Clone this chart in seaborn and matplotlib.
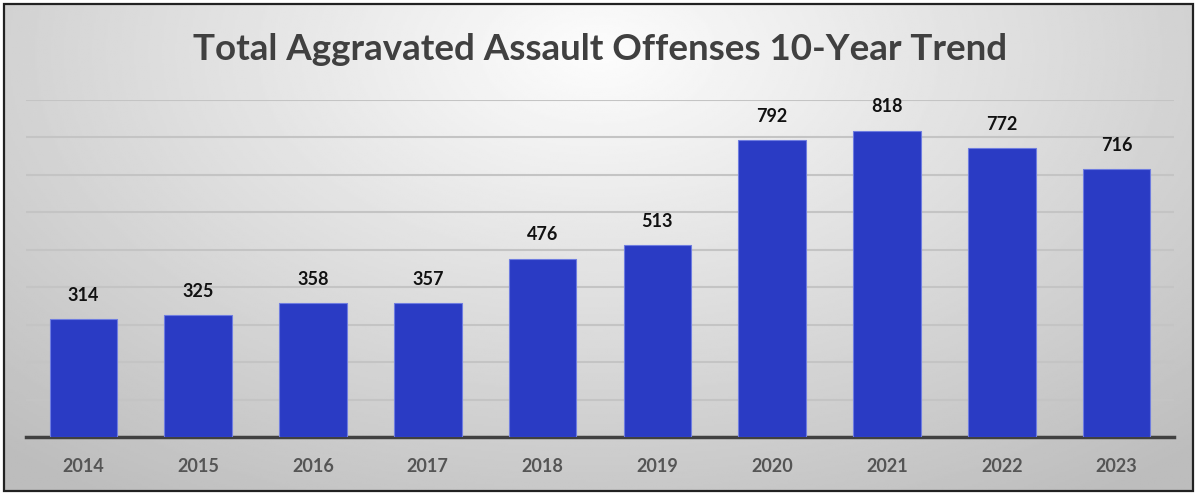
import matplotlib
matplotlib.use("Agg")
import matplotlib.pyplot as plt
import numpy as np
import pandas as pd
import seaborn as sns

# ── Data ───────────────────────────────────────────────────────────────────
years  = ["2014", "2015", "2016", "2017", "2018", "2019", "2020", "2021", "2022", "2023"]
counts = [314, 325, 358, 357, 476, 513, 792, 818, 772, 716]
title  = "Total Aggravated Assault Offenses 10-Year Trend"

df = pd.DataFrame({"year": years, "count": counts})

sns.set_theme(style="white")
plt.rcParams["font.family"] = ["Lato", "DejaVu Sans"]

BAR_COLOR = "#2a3bc4"

fig = plt.figure(figsize=(12, 4.98), dpi=100)

# ── Background: radial gradient inside a black frame ───────────────────────
bg = fig.add_axes([0, 0, 1, 1], zorder=0)
gx, gy = np.meshgrid(np.linspace(0, 1, 600), np.linspace(0, 1, 250))
dist = np.sqrt(((gx - 0.5) / 0.75) ** 2 + ((gy - 0.1) / 1.1) ** 2)
shade = np.clip(0.99 - 0.25 * dist, 0.74, 0.99)
bg.imshow(shade, cmap="gray", vmin=0, vmax=1, aspect="auto",
          extent=[4 / 1200, 1193 / 1200, 1 - 491 / 498, 1 - 4 / 498],
          origin="upper")
bg.add_patch(plt.Rectangle((4 / 1200, 1 - 491 / 498), 1189 / 1200, 487 / 498,
                           fill=False, edgecolor="#222222", linewidth=1.6))
bg.set_xlim(0, 1); bg.set_ylim(0, 1)
bg.axis("off")

# ── Bars ───────────────────────────────────────────────────────────────────
ax = fig.add_axes([26 / 1200, 61 / 498, 1148 / 1200, 337 / 498], zorder=1)
ax.patch.set_alpha(0)
sns.barplot(data=df, x="year", y="count", color=BAR_COLOR, width=0.59,
            edgecolor="#6f7de0", linewidth=0.8, saturation=1, ax=ax, zorder=3)

ax.set_ylim(0, 900)
ax.set_xlim(-0.5, len(years) - 0.5)
ax.set_yticks(np.arange(100, 901, 100))
ax.yaxis.grid(True, color="#c4c4c4", linewidth=1.5, zorder=0)
ax.set_axisbelow(True)
ax.tick_params(axis="y", left=False, labelleft=False)
ax.tick_params(axis="x", bottom=False, pad=9)
for lbl in ax.get_xticklabels():
    lbl.set_fontsize(13); lbl.set_fontweight("bold"); lbl.set_color("#555555")
ax.set_xlabel(""); ax.set_ylabel("")
for side in ["top", "right", "left"]:
    ax.spines[side].set_visible(False)
ax.spines["bottom"].set_color("#404040")
ax.spines["bottom"].set_linewidth(2.5)

for bar, v in zip(ax.patches, counts):
    ax.annotate(f"{v}", (bar.get_x() + bar.get_width() / 2, bar.get_height()),
                xytext=(0, 11), textcoords="offset points",
                ha="center", va="bottom", fontsize=13, fontweight="bold",
                color="#111111")

fig.text(0.5, 1 - 49 / 498, title, ha="center", va="center",
         fontsize=26.5, fontweight="bold", color="#404040")

fig.savefig("out.png", dpi=100)
